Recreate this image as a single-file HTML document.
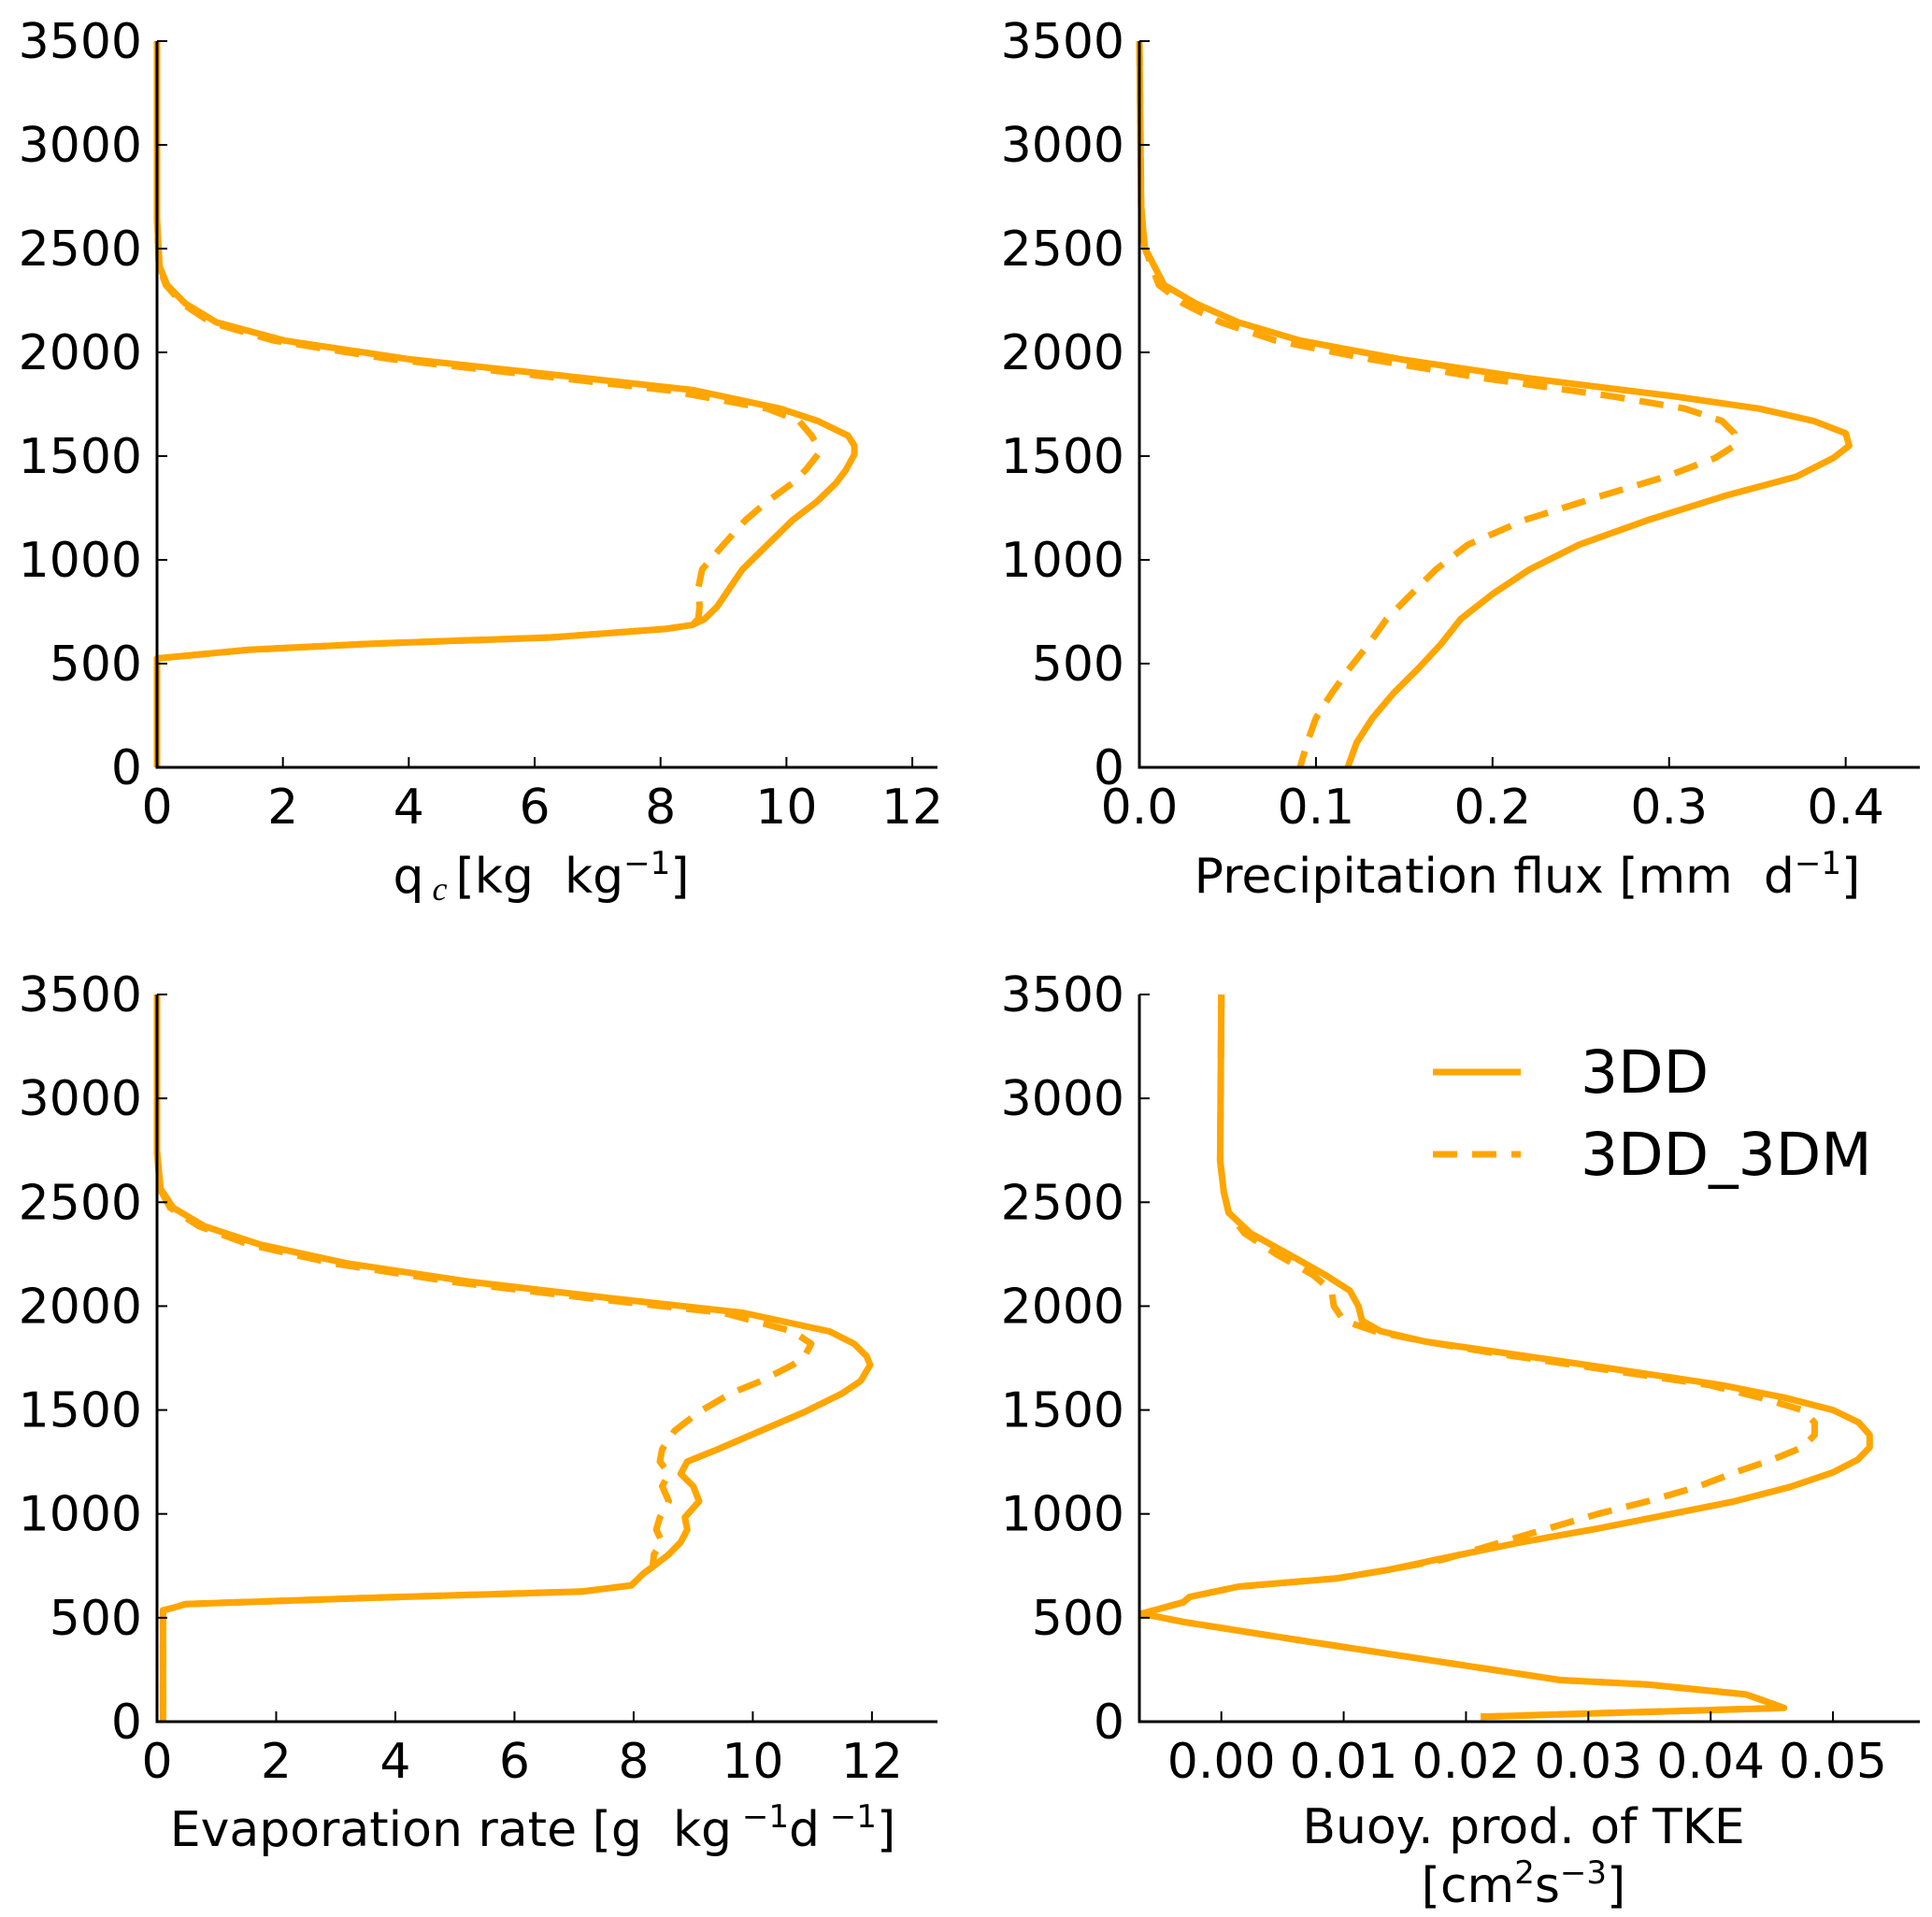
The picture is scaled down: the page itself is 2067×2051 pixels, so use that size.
<!DOCTYPE html>
<html><head><meta charset="utf-8"><style>
html,body{margin:0;padding:0;background:#fff;}
svg{display:block;font-family:"DejaVu Sans","Liberation Sans",sans-serif;}
</style></head><body>
<svg id="chart" width="2067" height="2051" viewBox="0 0 2067 2051" xmlns="http://www.w3.org/2000/svg"></svg>
<script>
// ---- data ----
const qcZ = [3500,2640,2415,2325,2235,2145,2057,1968,1890,1818,1729,1669,1598,1550,1508,1431,1371,1282,1192,1073,954,865,775,715,686,668,626,596,566,525,0];
const qcSolid = [0,0,0.04,0.16,0.45,0.94,2.02,3.98,6.36,8.52,9.9,10.5,10.98,11.08,11.08,10.94,10.79,10.49,10.1,9.7,9.3,9.1,8.9,8.7,8.5,8.1,6.26,3.4,1.44,0,0];
const qcDash = [0,0,0.03,0.14,0.4,0.85,1.85,3.7,6.0,8.1,9.7,10.2,10.4,10.5,10.5,10.3,10.1,9.7,9.35,9.0,8.66,8.6,8.62,8.6,8.5,8.1,6.26,3.4,1.44,0,0];

const prZ = [3500,2700,2505,2325,2235,2145,2057,1968,1878,1789,1729,1669,1610,1550,1491,1401,1312,1192,1073,954,835,715,596,477,358,238,119,0];
const prSolid = [0,0.001,0.003,0.014,0.032,0.056,0.091,0.147,0.218,0.302,0.351,0.382,0.4,0.402,0.393,0.372,0.333,0.288,0.249,0.221,0.2,0.182,0.171,0.158,0.144,0.132,0.123,0.118];
const prDash = [0,0.001,0.003,0.011,0.025,0.046,0.077,0.13,0.193,0.267,0.309,0.33,0.337,0.337,0.326,0.298,0.263,0.218,0.186,0.168,0.154,0.14,0.13,0.119,0.109,0.1,0.095,0.091];

const evZ = [3500,2743,2564,2474,2385,2296,2206,2117,2040,1968,1878,1819,1759,1717,1640,1580,1491,1401,1312,1252,1193,1133,1061,983,924,864,805,745,715,656,626,596,566,548,536,0];
const evSolid = [0,0,0.06,0.27,0.79,1.73,3.18,5.26,7.55,9.83,11.29,11.7,11.91,11.97,11.81,11.5,10.87,10.14,9.42,8.9,8.79,9.0,9.1,8.86,8.9,8.79,8.59,8.32,8.17,7.96,7.13,3.6,0.48,0.27,0.1,0.1];
const evDash = [0,0,0.05,0.22,0.7,1.55,2.95,4.95,7.2,9.5,10.67,10.98,10.87,10.67,10.14,9.63,9.1,8.69,8.48,8.44,8.59,8.48,8.59,8.44,8.38,8.48,8.34,8.32,8.17,7.96,7.13,3.6,0.48,0.27,0.1,0.1];

const bpZ = [3500,2700,2550,2450,2350,2250,2150,2075,2000,1930,1880,1830,1770,1700,1620,1560,1500,1440,1380,1320,1260,1200,1130,1060,1000,930,860,780,730,690,650,600,575,520,480,400,300,200,179,131,66,24];
const bpSolid = [0,-0.0001,0.0002,0.0006,0.0024,0.0055,0.0085,0.0105,0.0112,0.0115,0.013,0.0166,0.0237,0.0318,0.0409,0.046,0.05,0.0521,0.053,0.053,0.052,0.05,0.0465,0.0419,0.0368,0.0308,0.0242,0.0176,0.0136,0.0095,0.0014,-0.0026,-0.0031,-0.0065,-0.0031,0.0055,0.0166,0.0277,0.0348,0.0429,0.046,0.0212];
const bpDash = [0,-0.0001,0.0002,0.0006,0.0019,0.0045,0.0075,0.009,0.0092,0.01,0.0125,0.0166,0.0227,0.0308,0.0399,0.044,0.0475,0.0485,0.0485,0.0475,0.045,0.042,0.0389,0.0348,0.0308,0.0267,0.0227,0.0181,0.0136,0.0095,0.0014,-0.0026,-0.0031,-0.0065,-0.0031,0.0055,0.0166,0.0277,0.0348,0.0429,0.046,0.0212];

const yTicks = [0,500,1000,1500,2000,2500,3000,3500];
const qcTicks = [0,2,4,6,8,10,12];
const prTicks = [0,0.1,0.2,0.3,0.4];
const evTicks = [0,2,4,6,8,10,12];
const bpTicks = [0,0.01,0.02,0.03,0.04,0.05];

// ---- drawing ----
const NS = "http://www.w3.org/2000/svg";
const svg = document.getElementById('chart');
const ORANGE = "#FFA500";
const FS = 52;
function mk(tag, attrs, parent){
  const e = document.createElementNS(NS, tag);
  for (const k in attrs) e.setAttribute(k, attrs[k]);
  (parent||svg).appendChild(e);
  return e;
}
function panel(cfg){
  const g = mk('g', {});
  
  
  const sx = v => cfg.L + (v - cfg.xmin) / (cfg.xmax - cfg.xmin) * (cfg.R - cfg.L);
  const sy = v => cfg.B - v / 3500 * (cfg.B - cfg.T);
  [[cfg.dash, true],[cfg.solid, false]].forEach(([vals, dashed]) => {
    let d = '';
    for (let i = 0; i < cfg.z.length; i++) d += (i ? 'L' : 'M') + sx(vals[i]).toFixed(1) + ',' + sy(cfg.z[i]).toFixed(1);
    const p = mk('path', {d: d, fill: 'none', stroke: ORANGE, 'stroke-width': 7, 'stroke-linejoin': 'round'}, g);
    if (dashed) p.setAttribute('stroke-dasharray', '26,16');
    
    
  });
  const sp = mk('path', {d: `M${cfg.L},${cfg.T}L${cfg.L},${cfg.B}L${cfg.R},${cfg.B}`, fill: 'none', stroke: '#000', 'stroke-width': 3}, g);
  
  
  yTicks.forEach(t => {
    const y = sy(t);
    mk('line', {x1: cfg.L, x2: cfg.L + 11, y1: y, y2: y, stroke: '#000', 'stroke-width': 2}, g);
    const tx = mk('text', {x: cfg.L - 16, y: y + 18, 'text-anchor': 'end', 'font-size': FS}, g);
    tx.textContent = t;
    
    
  });
  cfg.ticks.forEach(t => {
    const x = sx(t);
    mk('line', {x1: x, x2: x, y1: cfg.B, y2: cfg.B - 11, stroke: '#000', 'stroke-width': 2}, g);
    const tx = mk('text', {x: x, y: cfg.B + 60, 'text-anchor': 'middle', 'font-size': FS}, g);
    tx.textContent = t.toFixed(cfg.dec);
    
    
  });
  return g;
}
panel({name:'panel-qc', L:168, R:1003, T:44, B:821, xmin:0, xmax:12.4, z:qcZ, solid:qcSolid, dash:qcDash, ticks:qcTicks, dec:0});
panel({name:'panel-precip', L:1219, R:2054, T:44, B:821, xmin:0, xmax:0.442, z:prZ, solid:prSolid, dash:prDash, ticks:prTicks, dec:1});
panel({name:'panel-evap', L:168, R:1003, T:1064, B:1842, xmin:0, xmax:13.1, z:evZ, solid:evSolid, dash:evDash, ticks:evTicks, dec:0});
panel({name:'panel-buoy', L:1219, R:2054, T:1064, B:1842, xmin:-0.0067, xmax:0.0571, z:bpZ, solid:bpSolid, dash:bpDash, ticks:bpTicks, dec:2});

function label(x, y, html, name){
  const t = mk('text', {x: x, y: y, 'text-anchor': 'middle', 'font-size': FS});
  t.innerHTML = html;
  
  
}
label(579, 955, 'q<tspan font-family="Liberation Serif,serif" font-style="italic" font-size="36" dy="8"> c </tspan><tspan dy="-8" xml:space="preserve">[kg  kg</tspan><tspan font-size="34" dy="-20">−1</tspan><tspan dy="20">]</tspan>', 'x-axis-title-qc');
label(1634, 955, '<tspan xml:space="preserve">Precipitation flux [mm  d</tspan><tspan font-size="34" dy="-20">−1</tspan><tspan dy="20">]</tspan>', 'x-axis-title-precip');
label(570, 1975, '<tspan xml:space="preserve">Evaporation rate [g  kg</tspan><tspan font-size="34" dy="-20"> −1</tspan><tspan dy="20">d</tspan><tspan font-size="34" dy="-20"> −1</tspan><tspan dy="20">]</tspan>', 'x-axis-title-evap');
label(1630, 1972, 'Buoy. prod. of TKE', 'x-axis-title-buoy');
label(1630, 2035, '[cm<tspan font-size="34" dy="-20">2</tspan><tspan dy="20">s</tspan><tspan font-size="34" dy="-20">−3</tspan><tspan dy="20">]</tspan>', 'x-axis-title-buoy-units');

const lg = mk('g', {});


const l1 = mk('line', {x1: 1533, x2: 1627, y1: 1147, y2: 1147, stroke: ORANGE, 'stroke-width': 7}, lg);


const t1 = mk('text', {x: 1691, y: 1169, 'font-size': 63}, lg);
t1.textContent = '3DD';


const l2 = mk('line', {x1: 1533, x2: 1627, y1: 1235, y2: 1235, stroke: ORANGE, 'stroke-width': 7, 'stroke-dasharray': '26,16'}, lg);


const t2 = mk('text', {x: 1691, y: 1257, 'font-size': 63}, lg);
t2.textContent = '3DD_3DM';


</script>
</body></html>
